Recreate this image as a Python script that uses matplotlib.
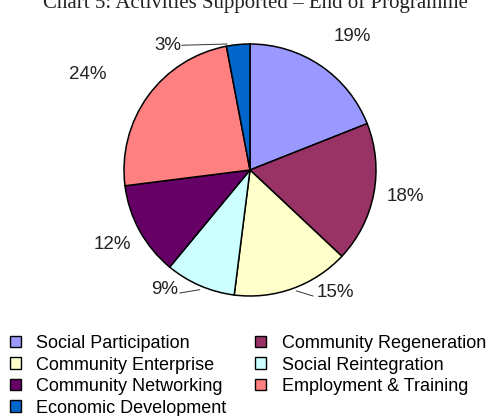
import numpy as np
import matplotlib
matplotlib.use('Agg')
import matplotlib.pyplot as plt
from matplotlib.patches import Patch

categories = ['Social Participation', 'Community Regeneration', 'Community Enterprise',
              'Social Reintegration', 'Community Networking', 'Employment & Training',
              'Economic Development']
shares = [19, 18, 15, 9, 12, 24, 3]
colours = ['#9999FF', '#993366', '#FFFFCC', '#CCFFFF', '#660066', '#FF8080', '#0066CC']

# label placement (pie radius = 1)
label_xy = [(0.81, 1.056), (1.23, -0.214), (0.675, -0.976), (-0.675, -0.952),
            (-1.095, -0.595), (-1.29, 0.754), (-0.65, 0.99)]
leaders = {6: [(-0.54, 0.99), (-0.183, 1.0)],
           2: [(0.37, -0.96), (0.5, -1.0)],
           3: [(-0.556, -0.976), (-0.4, -0.95)]}

sans = ['Liberation Sans', 'DejaVu Sans']
W, H = 496, 416
fig = plt.figure(figsize=(W / 100, H / 100), dpi=100)
cx, cy, r = 250, 170, 126
ax = fig.add_axes([(cx - r) / W, (H - cy - r) / H, 2 * r / W, 2 * r / H])

wedges, _ = ax.pie(shares, colors=colours, startangle=90, counterclock=False,
                   wedgeprops=dict(edgecolor='black', linewidth=1.1))
ax.set_xlim(-1.0, 1.0)
ax.set_ylim(-1.0, 1.0)

for i, v in enumerate(shares):
    x, y = label_xy[i]
    ax.text(x, y, f'{v}%', ha='center', va='center', fontsize=13.5,
            family=sans, color='#222222')
for i, pts in leaders.items():
    xs, ys = zip(*pts)
    ax.plot(xs, ys, color='#333333', linewidth=0.7, clip_on=False)

fig.text(0.515, 1 - 8 / H, 'Chart 5: Activities Supported \u2013 End of Programme',
         ha='center', va='baseline', fontsize=15, family='Liberation Serif', color='#222222')

order = [0, 2, 4, 6, 1, 3, 5]
handles = [Patch(facecolor=colours[i], edgecolor='black', linewidth=1.0,
                 label=categories[i]) for i in order]
fig.legend(handles=handles, loc='upper left', bbox_to_anchor=(10 / W, 1 - 335 / H),
           ncol=2, frameon=False, prop=dict(family=sans, size=13),
           handlelength=0.6, handleheight=0.6, handletextpad=0.85,
           labelspacing=0.25, columnspacing=1.6, borderaxespad=0, borderpad=0)

fig.savefig('out.png', dpi=100)
